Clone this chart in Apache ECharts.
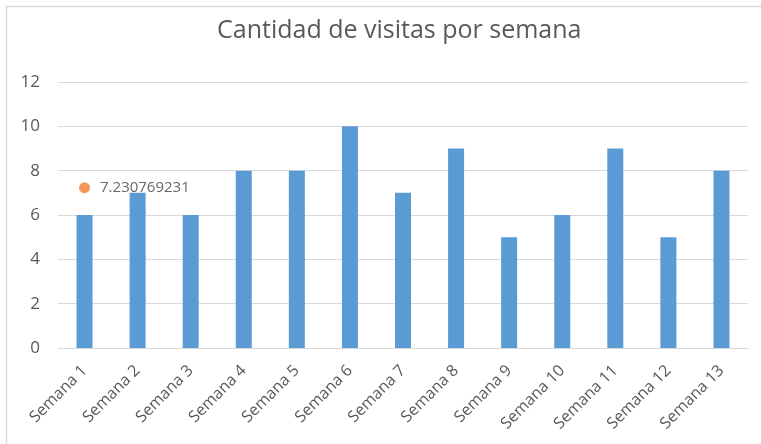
<!DOCTYPE html>
<html>
<head>
<meta charset="utf-8">
<script src="https://cdn.jsdelivr.net/npm/echarts@6/dist/echarts.min.js"></script>
<style>
html,body{margin:0;padding:0;background:#fff;}
#chart{width:761px;height:444px;}
</style>
</head>
<body>
<div id="chart"></div>
<script>
var categories = ['Semana 1','Semana 2','Semana 3','Semana 4','Semana 5','Semana 6','Semana 7','Semana 8','Semana 9','Semana 10','Semana 11','Semana 12','Semana 13'];
var visits = [6,7,6,8,8,10,7,9,5,6,9,5,8];
var averagePoint = [[0, 7.230769231]];
var yTicks = {min: 0, max: 12, interval: 2};
var titleText = 'Cantidad de visitas por semana';

var font = 'Open Sans';
var chart = echarts.init(document.getElementById('chart'));
chart.setOption({
  animation: false,
  backgroundColor: '#fff',
  title: {
    text: titleText,
    left: 212,
    top: 13,
    textStyle: {fontFamily: font, fontSize: 25, fontWeight: 'normal', color: '#595959'}
  },
  graphic: [{
    type: 'rect',
    shape: {x: 6.5, y: 6.5, width: 800, height: 500},
    style: {fill: 'none', stroke: '#d9d9d9', lineWidth: 1.5},
    silent: true
  }],
  grid: {left: 58, right: 13, top: 82, bottom: 96, containLabel: false},
  xAxis: {
    type: 'category',
    data: categories,
    axisLine: {lineStyle: {color: '#d9d9d9', width: 1}},
    axisTick: {show: false},
    axisLabel: {rotate: 45, interval: 0, margin: 20, fontFamily: font, fontSize: 16, color: '#595959'}
  },
  yAxis: {
    type: 'value',
    min: yTicks.min, max: yTicks.max, interval: yTicks.interval,
    axisLine: {show: false},
    axisTick: {show: false},
    splitLine: {lineStyle: {color: '#d9d9d9', width: 1}},
    axisLabel: {margin: 18, fontFamily: font, fontSize: 17, color: '#595959'}
  },
  series: [{
    type: 'bar',
    data: visits,
    barWidth: 16,
    itemStyle: {color: '#5B9BD5'}
  }, {
    type: 'scatter',
    data: averagePoint,
    symbol: 'circle',
    symbolSize: 11,
    itemStyle: {color: '#ED7D31'},
    label: {
      show: true,
      position: 'right',
      distance: 10,
      formatter: function (p) { return String(p.value[1]); },
      fontFamily: font, fontSize: 15, color: '#404040'
    }
  }]
});
</script>
</body>
</html>
